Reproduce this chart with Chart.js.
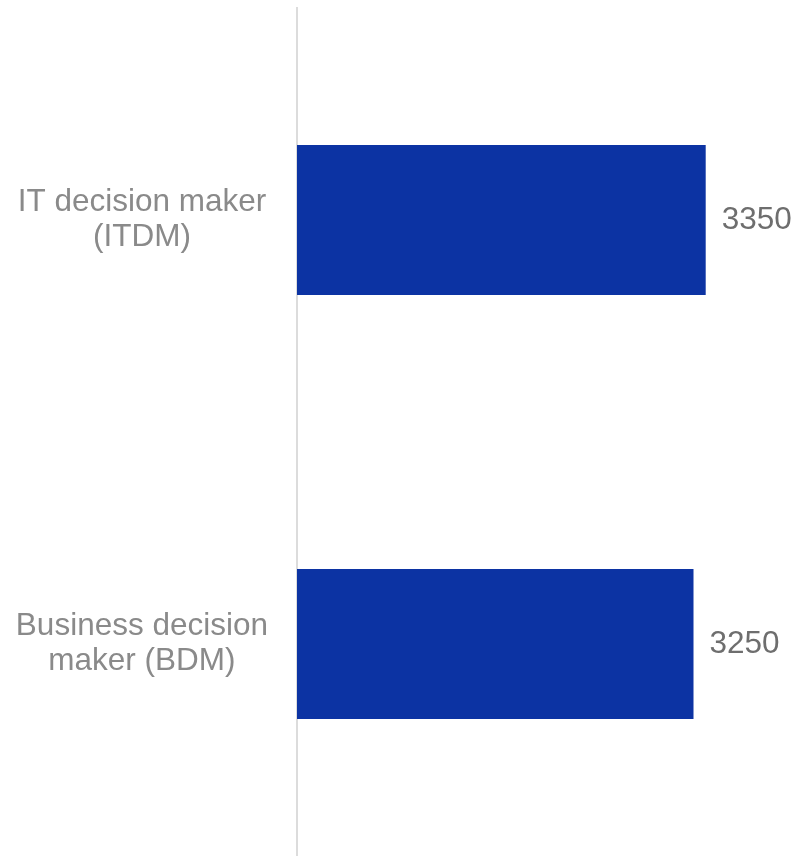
<!DOCTYPE html>
<html>
<head>
<meta charset="utf-8">
<title>Decision makers</title>
<script src="https://cdn.jsdelivr.net/npm/chart.js@4/dist/chart.umd.min.js"></script>
<style>
  html, body { margin: 0; padding: 0; background: #fff; }
  #wrap { width: 800px; height: 856px; }
</style>
</head>
<body>
<div id="wrap"><canvas id="myChart"></canvas></div>
<script>
// roles and respondent counts
const categorias = [
  ['IT decision maker', '(ITDM)'],
  ['Business decision', 'maker (BDM)']
];
const valores = [3350, 3250];
const maximo = 4000;

// draws the number next to each bar end
const etiquetasValor = {
  id: 'etiquetasValor',
  afterDatasetsDraw(chart) {
    const ctx = chart.ctx;
    const meta = chart.getDatasetMeta(0);
    ctx.save();
    ctx.font = '31.5px "Liberation Sans", Arial, sans-serif';
    ctx.fillStyle = '#6e6e6e';
    ctx.textAlign = 'left';
    ctx.textBaseline = 'middle';
    meta.data.forEach(function(bar, i) {
      ctx.fillText(String(valores[i]), bar.x + 16, bar.y);
    });
    ctx.restore();
  }
};

new Chart(document.getElementById('myChart'), {
  type: 'bar',
  data: {
    labels: categorias,
    datasets: [{
      data: valores,
      backgroundColor: '#0c33a3',
      borderWidth: 0,
      categoryPercentage: 1,
      barPercentage: 0.354
    }]
  },
  options: {
    indexAxis: 'y',
    responsive: true,
    maintainAspectRatio: false,
    animation: false,
    layout: { padding: { top: 8, right: 15, bottom: 0, left: 0 } },
    plugins: {
      legend: { display: false },
      tooltip: { enabled: false }
    },
    scales: {
      x: {
        display: false,
        min: 0,
        max: maximo
      },
      y: {
        // fixed axis width, no extra room for the label halves
        afterFit: function(scale) {
          scale.width = 297;
          scale.paddingTop = 0;
          scale.paddingBottom = 0;
        },
        grid: {
          display: true,
          drawOnChartArea: false,
          drawTicks: true,
          tickLength: 26,
          tickColor: 'transparent',
          color: 'transparent'
        },
        border: { display: true, color: '#dcdcdc', width: 2 },
        ticks: {
          crossAlign: 'center',
          color: '#8a8a8a',
          font: { family: '"Liberation Sans", Arial, sans-serif', size: 31.5, lineHeight: 1.12 }
        }
      }
    }
  },
  plugins: [etiquetasValor]
});
</script>
</body>
</html>
